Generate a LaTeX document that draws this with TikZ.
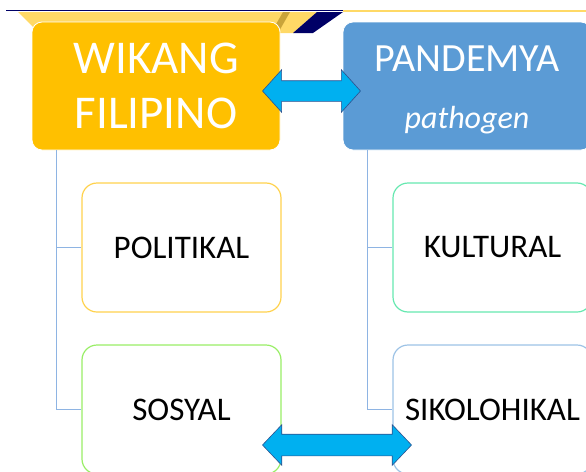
\documentclass[tikz,border=0pt]{standalone}
\usepackage{fontspec}
\setmainfont{Carlito}
\usetikzlibrary{shapes.arrows,positioning,calc}

\definecolor{wikorange}{HTML}{FFC000}
\definecolor{panblue}{HTML}{5B9BD5}
\definecolor{linkcyan}{HTML}{00B0F0}
\definecolor{linkedge}{HTML}{2F528F}
\definecolor{bandyellow}{HTML}{FFD966}
\definecolor{bandgold}{HTML}{C9A43A}
\definecolor{bandnavy}{HTML}{000066}
\definecolor{treeblue}{HTML}{8EB4E3}
\definecolor{polgold}{HTML}{FFD24D}
\definecolor{sosgreen}{HTML}{99EE66}
\definecolor{kulmint}{HTML}{66E8B0}
\definecolor{sikblue}{HTML}{9DC3E6}

\begin{document}
\begin{tikzpicture}[x=1pt,y=-1pt]
\tikzstyle{headbox}=[rectangle, rounded corners=10pt, inner sep=0pt,
	draw=white, line width=0.8pt, text=white, align=center,
	minimum width=248pt, minimum height=128pt]
\tikzstyle{subbox}=[rectangle, rounded corners=15pt, inner sep=0pt,
	fill=white, line width=1.2pt, minimum width=199pt, minimum height=129pt,
	font=\fontsize{33}{40}\selectfont]
\tikzstyle{link}=[double arrow, fill=linkcyan, draw=linkedge, line width=0.6pt,
	inner xsep=0pt]
\tikzstyle{tree}=[draw=treeblue, line width=1.5pt]
\useasboundingbox (0,0) rectangle (586,471);
\clip (0,0) rectangle (586,471);

% slide banner
\fill[bandyellow] (18,12) -- (317,12) -- (293,33) -- (39,33) -- cycle;
\fill[bandgold] (283,12) -- (290,12) -- (278,33) -- (271,33) -- cycle;
\fill[bandnavy] (317,12) -- (343,12) -- (313,33) -- (293,33) -- cycle;
\draw[bandnavy, line width=1.5pt] (6,10.5) -- (343,10.5);
\draw[bandyellow, line width=2pt] (343,10.8) -- (586,10.8);

\node[headbox, fill=wikorange, font=\fontsize{47}{55}\selectfont] (wikang) at (156,86) {WIKANG\\FILIPINO};
\node[headbox, fill=panblue, right of=wikang, node distance=311pt,
	font=\fontsize{40}{57}\selectfont] (pandemya) {\rule{0pt}{34pt}PANDEMYA\\{\fontsize{32}{57}\selectfont\itshape pathogen}};

\node[subbox, draw=polgold] (politikal) at (181.5,247.5) {POLITIKAL};
\node[subbox, draw=sosgreen, below of=politikal, node distance=162pt] (sosyal) {SOSYAL};
\node[subbox, draw=kulmint, right of=politikal, node distance=311pt] (kultural) {KULTURAL};
\node[subbox, draw=sikblue, below of=kultural, node distance=162pt] (sikolohikal) {SIKOLOHIKAL};

\draw[tree] ([xshift=25pt]wikang.south west) |- (politikal.west);
\draw[tree] ([xshift=25pt]wikang.south west) |- (sosyal.west);
\draw[tree] ([xshift=25pt]pandemya.south west) |- (kultural.west);
\draw[tree] ([xshift=25pt]pandemya.south west) |- (sikolohikal.west);

\node[link, inner ysep=10pt, double arrow head extend=11pt, double arrow tip angle=96,
	minimum height=98pt, yshift=-5pt] (toplink) at ($(wikang.east)!0.5!(pandemya.west)$) {};
\node[link, inner ysep=10.5pt, double arrow head extend=9.5pt, double arrow tip angle=93,
	minimum height=149pt, yshift=-35.5pt] (botlink) at ($(sosyal.east)!0.5!(sikolohikal.west)$) {};

\end{tikzpicture}
\end{document}
